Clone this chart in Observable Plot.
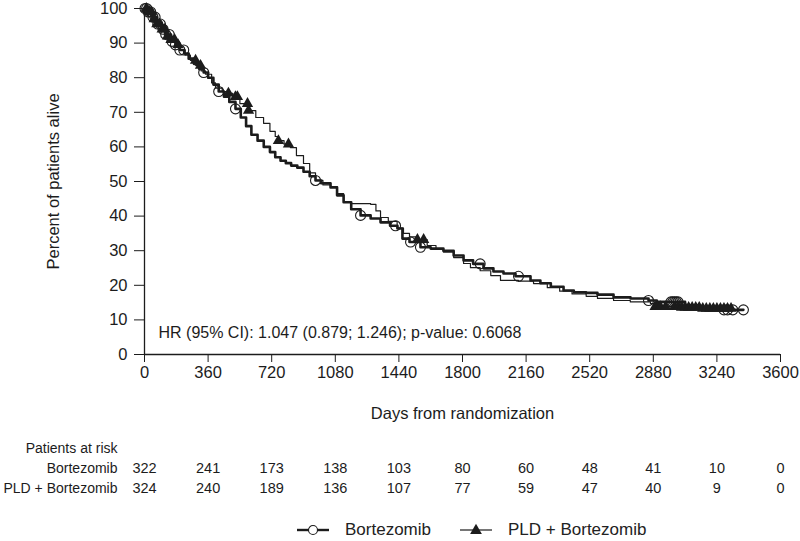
<!DOCTYPE html>
<html><head><meta charset="utf-8">
<script src="https://cdn.jsdelivr.net/npm/d3@7"></script>
<script src="https://cdn.jsdelivr.net/npm/@observablehq/plot@0.6"></script>
<style>
body{margin:0;background:#fff;font-family:"Liberation Sans",Arial,sans-serif;color:#222;}
#chart{width:800px;height:541px;position:relative;overflow:hidden;}
#chart svg{display:block;}
.leg{position:absolute;top:518px;height:24px;display:flex;align-items:center;font-size:17px;color:#222;}
.leg svg{margin-right:16px;}
</style></head><body><div id="chart"></div>
<script>
// ---- data ----
const xTicks = [0,360,720,1080,1440,1800,2160,2520,2880,3240,3600];
const yTicks = [0,10,20,30,40,50,60,70,80,90,100];

const bortDays = [0,20,45,70,95,120,150,175,200,225,250,280,310,335,360,390,420,450,480,515,545,575,605,640,675,710,740,770,800,830,865,900,935,968,1000,1053,1090,1127,1170,1223,1280,1336,1390,1432,1460,1500,1562,1620,1692,1750,1806,1860,1919,1975,2032,2100,2185,2241,2300,2372,2430,2500,2564,2655,2751,2853,2900,3060,3130,3187,3390];
const bortPct  = [100,99,97.5,95.5,94,92.5,90.5,89.5,88,87,85.5,84,82.5,81.5,80,78,76,74.5,73,71,68.5,66,63.5,61.8,60,58.5,57,56,55.3,54.6,54,52.8,51.5,50.3,49.5,48.3,46,44,42,40.2,39.3,38.2,37.2,36.4,33.5,32.5,31,30.6,30,28.6,27.2,26.2,24.9,24,23.4,22.6,21.4,20.6,19.6,18.5,18,17.8,17.3,16.5,16.2,15.6,15.2,14.2,13.5,12.9,12.9];

const pldDays = [0,20,45,70,95,120,150,175,200,230,260,290,320,345,380,402,440,470,500,540,589,630,674,710,740,758,790,826,860,900,935,968,1010,1053,1090,1127,1170,1280,1310,1336,1380,1430,1466,1500,1545,1600,1650,1692,1750,1806,1845,1900,1960,2015,2117,2202,2280,2350,2420,2500,2564,2655,2750,2864,2885,3040,3150,3330];
const pldPct  = [100,99,97,95.5,94,92,91,89.5,88,86.5,85,83.5,82,81,78.5,77,76,75.5,74.5,72.5,70.5,68.5,66.8,64.5,63,61.8,60.8,59.8,57.5,55.2,52.5,50.3,49,48.5,46.5,44,43.6,43.4,41.5,39.6,38.5,36.5,35,34,33.2,31.5,30.5,29.6,28,26.3,25.1,24.2,22.8,21.4,21.2,20.5,19.3,18.3,17.5,16.8,16.2,15.6,15.2,14.7,13.8,13.6,13.3,13.3];

const bortCensor = [3,12,22,35,48,60,75,90,105,120,140,155,175,200,222,335,420,515,968,1223,1421,1506,1562,1900,2117,2853,2980,2990,3000,3010,3020,3280,3300,3330,3390];
const pldCensor  = [10,25,40,55,70,85,100,115,130,150,170,190,289,317,475,515,526,583,589,758,815,1545,1580,2890,2905,2920,2950,3000,3020,3040,3060,3080,3100,3120,3140,3160,3180,3200,3220,3240,3260,3280,3300,3320];

const riskRows = ["Patients at risk","Bortezomib","PLD + Bortezomib"];
const riskBort = [322,241,173,138,103,80,60,48,41,10,0];
const riskPld  = [324,240,189,136,107,77,59,47,40,9,0];
const hrText = "HR (95% CI): 1.047 (0.879; 1.246); p-value: 0.6068";

// ---- build ----
const FONT = '"Liberation Sans", Arial, sans-serif';
const toRows = (days, pct) => days.map((d,i)=>({day:d, pct:pct[i]}));
const survAt = (days,pct,t) => pct[Math.max(0, d3.bisectRight(days,t)-1)];
const bort = toRows(bortDays, bortPct);
const pld = toRows(pldDays, pldPct);
const bortC = bortCensor.map(t=>({day:t, pct:survAt(bortDays,bortPct,t)}));
const pldC = pldCensor.map(t=>({day:t, pct:survAt(pldDays,pldPct,t)}));
const INK = "#1c1c1c";

const main = Plot.plot({
  width:800, height:430, marginLeft:144, marginRight:20, marginTop:8, marginBottom:76,
  style:{fontFamily:FONT, fontSize:"16px", color:INK, background:"white", overflow:"visible"},
  x:{domain:[0,3600]}, y:{domain:[0,100]},
  marks:[
    Plot.axisX({ticks:xTicks, tickSize:8, tickPadding:4, tickFormat:d=>String(d), label:"Days from randomization", labelAnchor:"center", labelOffset:64, labelArrow:"none", fontSize:16.5}),
    Plot.axisY({ticks:yTicks, tickSize:10, tickPadding:7, label:"Percent of patients alive", labelAnchor:"center", labelOffset:97, labelArrow:"none", fontSize:16.5}),
    Plot.ruleX([0], {stroke:INK, strokeWidth:1.3}),
    Plot.ruleY([0], {stroke:INK, strokeWidth:1.3}),
    Plot.line(pld, {x:"day", y:"pct", curve:"step-after", stroke:INK, strokeWidth:1.2}),
    Plot.line(bort, {x:"day", y:"pct", curve:"step-after", stroke:INK, strokeWidth:2.6}),
    Plot.dot(bortC, {x:"day", y:"pct", r:5, stroke:INK, strokeWidth:1.1, fill:"none"}),
    Plot.dot(pldC, {x:"day", y:"pct", symbol:"triangle", r:4.2, fill:INK, stroke:"none"}),
    Plot.text([hrText], {text:d=>d, frameAnchor:"bottom-left", dx:14, dy:-17, fontSize:16, textAnchor:"start", fill:INK})
  ]
});

const riskData = [
  ...xTicks.map((t,i)=>({day:t, row:riskRows[1], n:riskBort[i]})),
  ...xTicks.map((t,i)=>({day:t, row:riskRows[2], n:riskPld[i]}))
];
const risk = Plot.plot({
  width:800, height:70, marginLeft:144, marginRight:20, marginTop:18, marginBottom:12,
  style:{fontFamily:FONT, fontSize:"14px", color:INK, background:"white", overflow:"visible"},
  x:{domain:[0,3600], axis:null}, y:{type:"point", domain:riskRows, padding:0, axis:null},
  marks:[
    Plot.text(riskData, {x:"day", y:"row", text:"n", fontSize:14.5, fill:INK}),
    Plot.text(riskRows, {y:d=>d, text:d=>d, frameAnchor:"left", dx:-27, textAnchor:"end", fontSize:14, fill:INK})
  ]
});

const root = document.getElementById("chart");
root.appendChild(main);
root.appendChild(risk);

function legendItem(left, label, kind){
  const div = document.createElement("div");
  div.className = "leg"; div.style.left = left+"px";
  const ns = "http://www.w3.org/2000/svg";
  const s = document.createElementNS(ns,"svg");
  s.setAttribute("width","32"); s.setAttribute("height","14");
  const ln = document.createElementNS(ns,"line");
  ln.setAttribute("x1","0"); ln.setAttribute("x2","32"); ln.setAttribute("y1","7"); ln.setAttribute("y2","7");
  ln.setAttribute("stroke",INK); ln.setAttribute("stroke-width", kind==="circle"?"2.4":"1.2");
  s.appendChild(ln);
  if(kind==="circle"){
    const c = document.createElementNS(ns,"circle");
    c.setAttribute("cx","16"); c.setAttribute("cy","7"); c.setAttribute("r","4.5");
    c.setAttribute("fill","white"); c.setAttribute("stroke",INK); c.setAttribute("stroke-width","1.1");
    s.appendChild(c);
  } else {
    const p = document.createElementNS(ns,"path");
    p.setAttribute("d", d3.symbol(d3.symbolTriangle, 60)());
    p.setAttribute("transform","translate(16,7.5)"); p.setAttribute("fill",INK);
    s.appendChild(p);
  }
  div.appendChild(s);
  const sp = document.createElement("span"); sp.textContent = label; div.appendChild(sp);
  root.appendChild(div);
}
legendItem(297, "Bortezomib", "circle");
legendItem(460, "PLD + Bortezomib", "triangle");
</script></body></html>
